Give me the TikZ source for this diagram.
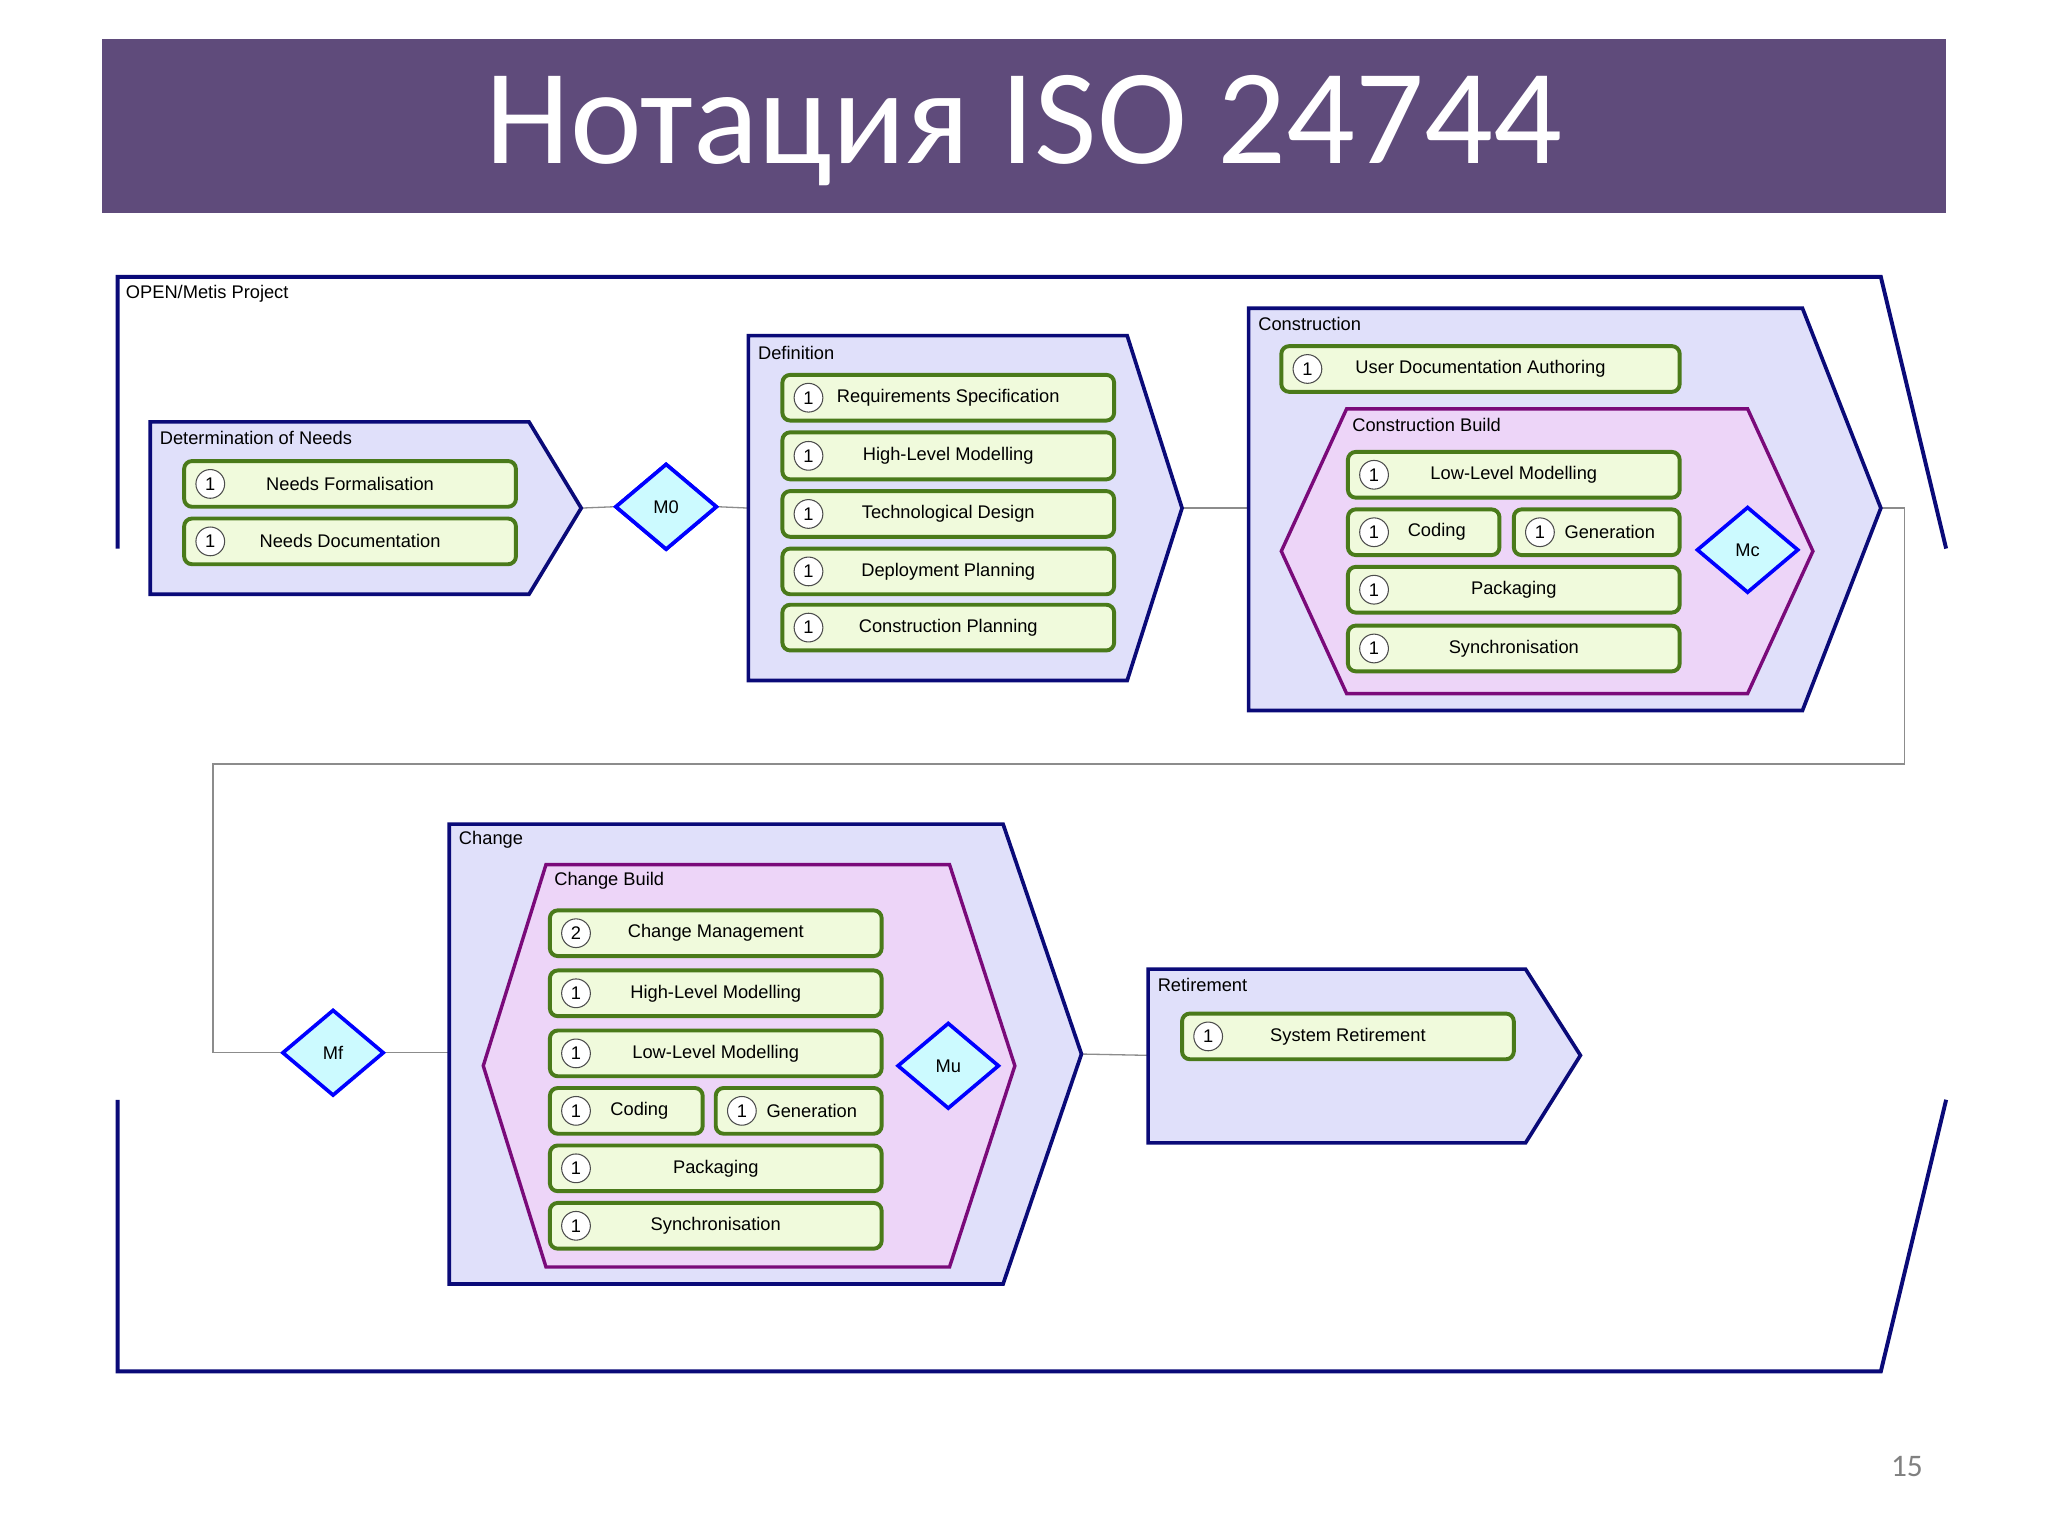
\documentclass[tikz,border=0pt]{standalone}
\usepackage{fontspec}
\setmainfont{Liberation Sans}
\newfontfamily\titlefont{Carlito}
\usetikzlibrary{shapes.geometric}
\definecolor{navy}{HTML}{0A0A78}
\definecolor{lav}{HTML}{E0E0FA}
\definecolor{pinkf}{HTML}{EDD5F8}
\definecolor{purp}{HTML}{7A0A7A}
\definecolor{taskf}{HTML}{F0FADC}
\definecolor{taskb}{HTML}{4A7A1A}
\definecolor{diamf}{HTML}{CCFAFF}
\definecolor{titlebg}{HTML}{5F4B7B}
\tikzset{
  phase/.style={draw=navy,fill=lav,line width=1.4pt,line join=miter},
  build/.style={draw=purp,fill=pinkf,line width=1.3pt},
  task/.style={draw=taskb,fill=taskf,line width=1.5pt,rounded corners=3pt,inner sep=0pt,font=\fontsize{7}{8}\selectfont},
  num/.style={circle,draw=black!70,fill=white,line width=0.4pt,minimum size=11pt,inner sep=0pt,font=\fontsize{7}{8}\selectfont},
  milestone/.style={diamond,draw=blue,fill=diamf,line width=1.4pt,minimum width=39pt,minimum height=33pt,aspect=1.2,inner sep=0pt,font=\fontsize{7}{8}\selectfont},
  lbl/.style={anchor=west,inner sep=0pt,font=\fontsize{7}{8}\selectfont},
  conn/.style={draw=black!45,line width=0.5pt},
}
\newcommand\tk[7]{%
  \node[task,minimum width={(#4-#2)*0.5pt},minimum height={(#5-#3)*0.5pt}] (#1) at ({(#2+#4)/2},{(#3+#5)/2}) {};
  \node[num] (#1n) at ({#2+20},{(#3+#5)/2}) {#6};
  \node[font=\fontsize{7}{8}\selectfont,inner sep=0pt] (#1t) at ({(#2+#4)/2+(#4-#2<140?10:0)},{(#3+#5)/2}) {#7};}
\begin{document}
\begin{tikzpicture}[x=0.5pt,y=-0.5pt]
\useasboundingbox (0,0) rectangle (1568,1176);
\fill[white] (0,0) rectangle (1568,1176);
% title
\fill[titlebg] (78,30) rectangle (1490,163);
\node[text=white,font=\titlefont\fontsize{52}{60}\selectfont] (title) at (784,100) {Нотация ISO 24744};
% project frame
\draw[navy,line width=1.5pt] (90,420) -- (90,212) -- (1440,212) -- (1490,420);
\draw[navy,line width=1.5pt] (90,842) -- (90,1050) -- (1440,1050) -- (1490,842);
\node[lbl] (proj) at (96,225) {OPEN/Metis Project};
% connectors
\coordinate (dnR) at (445,389);
\coordinate (defL) at (573,389);
\coordinate (defR) at (905,389);
\coordinate (conL) at (956,389);
\coordinate (conR) at (1440,389);
\coordinate (chL) at (344,806);
\coordinate (chR) at (828,807);
\coordinate (retL) at (879,808);
\node[milestone] (M0) at (510,388) {M0};
\node[milestone] (Mf) at (255,806) {Mf};
\draw[conn] (dnR) -- (M0.west) (M0.east) -- (defL);
\draw[conn] (defR) -- (conL);
\draw[conn] (conR) -- (1458,389) -- (1458,585) -- (163,585) -- (163,806) -- (Mf.west);
\draw[conn] (Mf.east) -- (chL);
\draw[conn] (chR) -- (retL);
% Determination of Needs
\draw[phase] (115,323) -- (405,323) -- (445,389) -- (405,455) -- (115,455) -- cycle;
\node[lbl] (dnl) at (122,335) {Determination of Needs};
\tk{nf}{141}{353}{395}{388}{1}{Needs Formalisation}
\tk{nd}{141}{397}{395}{432}{1}{Needs Documentation}
% Definition
\draw[phase] (573,257) -- (863,257) -- (905,389) -- (863,521) -- (573,521) -- cycle;
\node[lbl] (defl) at (580,270) {Definition};
\tk{rs}{599}{287}{853}{322}{1}{Requirements Specification}
\tk{hl}{599}{331}{853}{367}{1}{High-Level Modelling}
\tk{td}{599}{376}{853}{411}{1}{Technological Design}
\tk{dp}{599}{420}{853}{455}{1}{Deployment Planning}
\tk{cp}{599}{463}{853}{498}{1}{Construction Planning}
\node[milestone] (M0b) at (510,388) {M0};
% Construction
\draw[phase] (956,236) -- (1380,236) -- (1440,389) -- (1380,544) -- (956,544) -- cycle;
\node[lbl] (conl) at (963,248) {Construction};
\tk{uda}{981}{265}{1286}{300}{1}{User Documentation Authoring}
\draw[build] (981,422) -- (1031,313) -- (1338,313) -- (1388,422) -- (1338,531) -- (1031,531) -- cycle;
\node[lbl] (cbl) at (1035,325) {Construction Build};
\tk{cll}{1032}{346}{1286}{381}{1}{Low-Level Modelling}
\tk{cco}{1032}{390}{1148}{425}{1}{Coding}
\tk{cge}{1159}{390}{1286}{425}{1}{Generation}
\tk{cpa}{1032}{434}{1286}{469}{1}{Packaging}
\tk{csy}{1032}{479}{1286}{514}{1}{Synchronisation}
\node[milestone] (Mc) at (1338,421) {Mc};
% Change
\draw[phase] (344,631) -- (768,631) -- (828,807) -- (768,983) -- (344,983) -- cycle;
\node[lbl] (chl) at (351,643) {Change};
\draw[build] (370,816) -- (418,662) -- (727,662) -- (777,816) -- (727,970) -- (418,970) -- cycle;
\node[lbl] (chbl) at (424,674) {Change Build};
\tk{hcm}{421}{697}{675}{732}{2}{Change Management}
\tk{hhl}{421}{743}{675}{778}{1}{High-Level Modelling}
\tk{hll}{421}{789}{675}{824}{1}{Low-Level Modelling}
\tk{hco}{421}{833}{538}{868}{1}{Coding}
\tk{hge}{548}{833}{675}{868}{1}{Generation}
\tk{hpa}{421}{877}{675}{912}{1}{Packaging}
\tk{hsy}{421}{921}{675}{956}{1}{Synchronisation}
\node[milestone] (Mu) at (726,816) {Mu};
% Retirement
\draw[phase] (879,742) -- (1168,742) -- (1210,808) -- (1168,875) -- (879,875) -- cycle;
\node[lbl] (retl) at (886,754) {Retirement};
\tk{sr}{905}{776}{1159}{811}{1}{System Retirement}
% page number
\node[text=black!50,font=\titlefont\fontsize{12}{14}\selectfont] (pg) at (1460,1123) {15};
\end{tikzpicture}
\end{document}
